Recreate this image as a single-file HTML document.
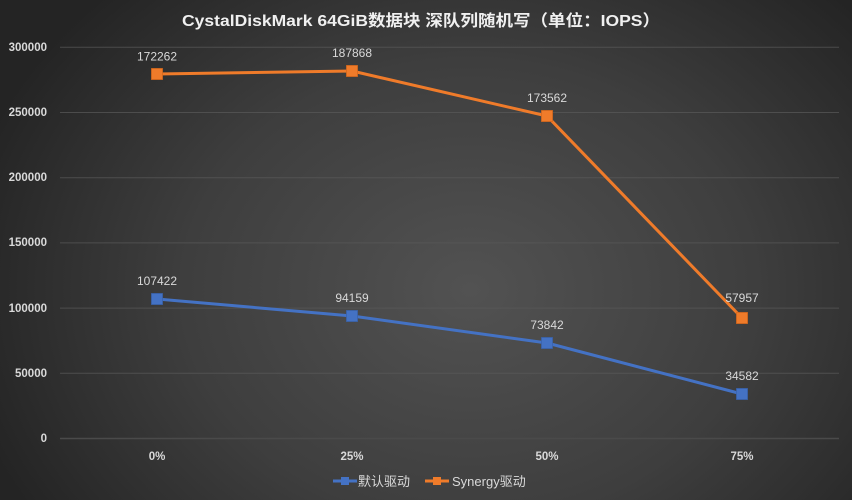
<!DOCTYPE html>
<html><head><meta charset="utf-8"><style>
html,body{margin:0;padding:0;background:#fff;}
body{width:852px;height:502px;overflow:hidden;}
svg{display:block;}
</style></head><body>
<svg width="852" height="502" viewBox="0 0 852 502" xmlns="http://www.w3.org/2000/svg">
<defs>
<radialGradient id="bg" cx="470" cy="290" r="520" gradientUnits="userSpaceOnUse" gradientTransform="translate(470 290) scale(1 0.8) translate(-470 -290)">
<stop offset="0" stop-color="#525252"/>
<stop offset="0.55" stop-color="#3e3e3e"/>
<stop offset="1" stop-color="#242424"/>
</radialGradient>
</defs>
<rect x="0" y="0" width="852" height="500" fill="url(#bg)"/>
<g stroke="#5a5a5a" stroke-width="1" opacity="0.7">
<line x1="60" y1="47.3" x2="839" y2="47.3"/>
<line x1="60" y1="112.5" x2="839" y2="112.5"/>
<line x1="60" y1="177.7" x2="839" y2="177.7"/>
<line x1="60" y1="242.9" x2="839" y2="242.9"/>
<line x1="60" y1="308.1" x2="839" y2="308.1"/>
<line x1="60" y1="373.3" x2="839" y2="373.3"/>
</g>
<line x1="60" y1="438.5" x2="839" y2="438.5" stroke="#4a4a4a" stroke-width="1.5"/>
<text x="421" y="26" text-anchor="middle" font-family="'Liberation Sans','Noto Sans CJK SC',sans-serif" font-size="16" font-weight="bold" fill="#f0f0f0" textLength="478" lengthAdjust="spacingAndGlyphs">CystalDiskMark 64GiB数据块 深队列随机写（单位：IOPS）</text>
<g font-family="'Liberation Sans','Noto Sans CJK SC',sans-serif" font-size="11.5" font-weight="bold" fill="#d9d9d9" text-anchor="end">
<text x="47" y="51">300000</text>
<text x="47" y="116">250000</text>
<text x="47" y="181">200000</text>
<text x="47" y="246">150000</text>
<text x="47" y="312">100000</text>
<text x="47" y="377">50000</text>
<text x="47" y="442">0</text>
</g>
<g font-family="'Liberation Sans',sans-serif" font-size="11.5" font-weight="bold" fill="#d9d9d9" text-anchor="middle">
<text x="157" y="460">0%</text>
<text x="352" y="460">25%</text>
<text x="547" y="460">50%</text>
<text x="742" y="460">75%</text>
</g>
<polyline points="157,74 352,71 547,116 742,318" fill="none" stroke="#ef7b2a" stroke-width="3" stroke-linejoin="round"/>
<polyline points="157,299 352,316 547,343 742,394" fill="none" stroke="#4472c4" stroke-width="3" stroke-linejoin="round"/>
<g fill="#ef7b2a" stroke="#d96a1c" stroke-width="0.8">
<rect x="151.5" y="68.5" width="11" height="11"/>
<rect x="346.5" y="65.5" width="11" height="11"/>
<rect x="541.5" y="110.5" width="11" height="11"/>
<rect x="736.5" y="312.5" width="11" height="11"/>
</g>
<g fill="#4472c4" stroke="#3a63ad" stroke-width="0.8">
<rect x="151.5" y="293.5" width="11" height="11"/>
<rect x="346.5" y="310.5" width="11" height="11"/>
<rect x="541.5" y="337.5" width="11" height="11"/>
<rect x="736.5" y="388.5" width="11" height="11"/>
</g>
<g font-family="'Liberation Sans',sans-serif" font-size="12" fill="#d9d9d9" text-anchor="middle">
<text x="157" y="60.5">172262</text>
<text x="352" y="57">187868</text>
<text x="547" y="102">173562</text>
<text x="742" y="302">57957</text>
<text x="157" y="285">107422</text>
<text x="352" y="302">94159</text>
<text x="547" y="329">73842</text>
<text x="742" y="380">34582</text>
</g>
<line x1="333" y1="481" x2="357" y2="481" stroke="#4472c4" stroke-width="3"/>
<rect x="341" y="477" width="8" height="8" fill="#4472c4"/>
<text x="358" y="486" font-family="'Liberation Sans','Noto Sans CJK SC',sans-serif" font-size="13" fill="#d9d9d9">默认驱动</text>
<line x1="425" y1="481" x2="449" y2="481" stroke="#ef7b2a" stroke-width="3"/>
<rect x="433" y="477" width="8" height="8" fill="#ef7b2a"/>
<text x="452" y="486" font-family="'Liberation Sans','Noto Sans CJK SC',sans-serif" font-size="13" fill="#d9d9d9">Synergy驱动</text>
</svg>
</body></html>
